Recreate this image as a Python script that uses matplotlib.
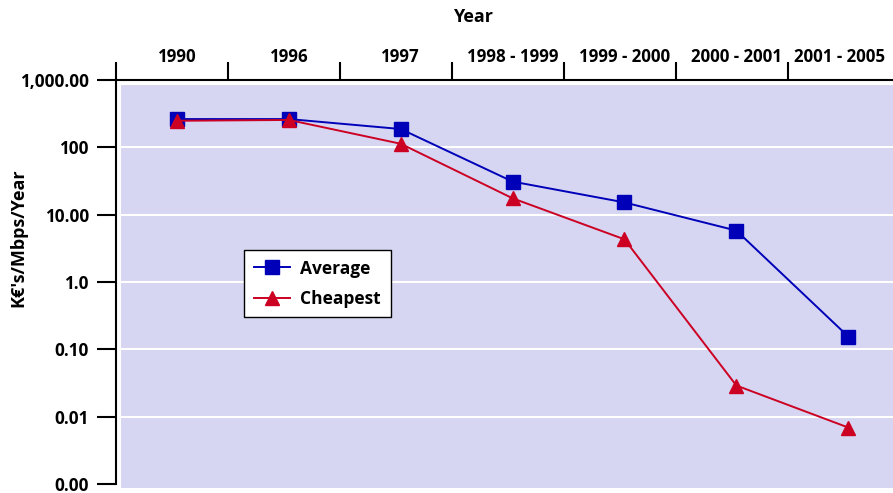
import matplotlib
matplotlib.use("Agg")
import matplotlib.pyplot as plt
from matplotlib.patches import Rectangle
from matplotlib.ticker import FixedLocator, FixedFormatter, NullFormatter

categories = ["1990", "1996", "1997", "1998 - 1999", "1999 - 2000", "2000 - 2001", "2001 - 2005"]
average = [263, 263, 187, 31, 15.2, 5.8, 0.155]
cheapest = [248, 255, 113, 17.5, 4.3, 0.029, 0.0069]
ytick_values = [0.001, 0.01, 0.1, 1, 10, 100, 1000]
ytick_labels = ["0.00", "0.01", "0.10", "1.0", "10.00", "100", "1,000.00"]

plt.rcParams['font.family'] = ['Open Sans', 'DejaVu Sans']
plt.rcParams['font.weight'] = 'bold'

W, H = 893, 493
fig = plt.figure(figsize=(W / 100, H / 100), dpi=100)
left, right, top, bottom = 116, 893, 80, 484
ax = fig.add_axes([left / W, 1 - bottom / H, (right - left) / W, (bottom - top) / H])
ax.set_facecolor('none')

x = list(range(len(categories)))
xmin, xmax = -0.545, 6.40
ax.set_yscale('log')
ax.set_ylim(0.001, 1000)
ax.set_xlim(xmin, xmax)

# plot background (offset slightly from the axes lines)
ax.add_patch(Rectangle((5 / (right - left), -0.01), 1, 1 - 5 / (bottom - top) + 0.01,
                       transform=ax.transAxes, facecolor='#D6D6F2', edgecolor='none', zorder=0,
                       clip_on=False))
for v in ytick_values[1:-1]:
    ax.axhline(v, xmin=5 / (right - left), xmax=1, color='white', lw=1.5, zorder=1)

blue = '#0000B8'
red = '#CC0022'
ax.plot(x, average, color=blue, lw=1.4, marker='s', markersize=9.5, label='Average', zorder=3, clip_on=False)
ax.plot(x, cheapest, color=red, lw=1.4, marker='^', markersize=9.5, label='Cheapest', zorder=4, clip_on=False)

for s in ['right', 'bottom']:
    ax.spines[s].set_visible(False)
for s in ['left', 'top']:
    ax.spines[s].set_linewidth(1.5)
    ax.spines[s].set_color('black')

# y ticks
ax.yaxis.set_major_locator(FixedLocator(ytick_values))
ax.yaxis.set_major_formatter(FixedFormatter(ytick_labels))
ax.yaxis.set_minor_locator(FixedLocator([]))
ax.yaxis.set_minor_formatter(NullFormatter())
ax.tick_params(axis='y', which='major', direction='out', length=13.5, width=1.5, pad=6, labelsize=12.3)

# x ticks on top: boundaries as major ticks, labels as minor ticks
ax.xaxis.tick_top()
bounds = [xmin] + [i + 0.46 for i in x[:-1]]
ax.xaxis.set_major_locator(FixedLocator(bounds))
ax.xaxis.set_major_formatter(NullFormatter())
label_pos = x[:-1] + [(bounds[-1] + xmax) / 2 - 0.01]
ax.xaxis.set_minor_locator(FixedLocator(label_pos))
ax.xaxis.set_minor_formatter(FixedFormatter(categories))
ax.tick_params(axis='x', which='major', direction='out', length=13, width=1.5, top=True, bottom=False)
ax.tick_params(axis='x', which='minor', length=0, pad=10, labelsize=12.2, top=True, bottom=False,
               labeltop=True, labelbottom=False)

fig.text(473 / W, 1 - 17 / H, 'Year', ha='center', va='center', fontsize=13, fontweight='bold')
fig.text(18 / W, 1 - 238 / H, "K€'s/Mbps/Year", ha='center', va='center', rotation=90,
         fontsize=13, fontweight='bold')

leg = ax.legend(loc='upper left', bbox_to_anchor=(244 / W, 1 - 250 / H), bbox_transform=fig.transFigure,
                fancybox=False, framealpha=1, edgecolor='black', fontsize=12.5, handlelength=2.1,
                borderpad=0.55, labelspacing=0.7, handletextpad=0.6, borderaxespad=0)
leg.get_frame().set_linewidth(1.0)

fig.savefig('out.png', dpi=100)
